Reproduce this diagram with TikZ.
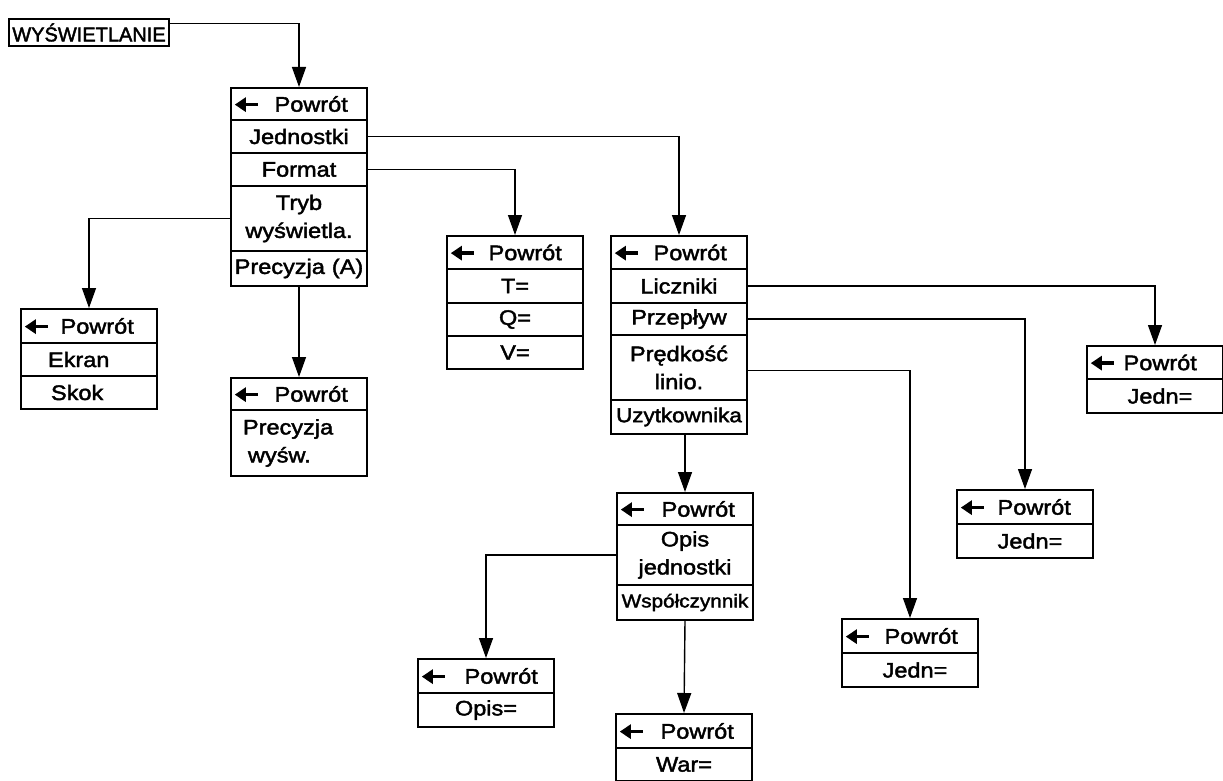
\documentclass[tikz,border=0pt]{standalone}
\usepackage{fontspec}
\setmainfont{Liberation Sans}[FakeStretch=1.12, FakeBold=2]
\newfontfamily\plainsans{Liberation Sans}[FakeBold=2]
\usetikzlibrary{arrows.meta}
\newcommand\larr{\tikz[baseline=0pt]\draw[line width=3.6pt,{Triangle[length=11pt,width=14pt]}-] (0pt,7pt) -- (23pt,7pt);}
\tikzset{
  row/.style={draw, line width=2pt, minimum width=136pt, inner sep=0pt,
    anchor=north west, font=\fontsize{21pt}{28pt}\selectfont},
  crow/.style={row, text width=132pt, align=center},
  lrow/.style={row, text width=132pt, align=left},
  conn/.style={line width=1.4pt, -{Triangle[length=20pt,width=14pt]}},
}
\begin{document}
\begin{tikzpicture}[x=1pt,y=-1pt]
\useasboundingbox (0,0) rectangle (1223,781);
% top label
\node[draw, line width=2pt, minimum width=160pt, minimum height=27pt, inner sep=0pt,
  anchor=north west, font=\plainsans\fontsize{20pt}{22pt}\selectfont] (wys) at (8,18) {WYŚWIETLANIE};
% main box
\node[lrow, minimum height=32pt] (m0) at (230,87) {\larr\hspace{15pt}Powrót};
\node[crow, minimum height=33pt] (m1) at (230,119) {Jednostki};
\node[crow, minimum height=33pt] (m2) at (230,152) {Format};
\node[crow, minimum height=65pt] (m3) at (230,185) {Tryb\\wyświetla.};
\node[crow, minimum height=35pt] (m4) at (230,250) {Precyzja (A)};
% Ekran box
\node[lrow, minimum height=34pt] (e0) at (20,308) {\larr\hspace{11pt}Powrót};
\node[lrow, minimum height=33pt] (e1) at (20,342) {\hspace*{25pt}Ekran};
\node[lrow, minimum height=33pt] (e2) at (20,375) {\hspace*{28pt}Skok};
% Precyzja box
\node[lrow, minimum height=32pt] (p0) at (230,377) {\larr\hspace{15pt}Powrót};
\node[lrow, minimum height=66pt] (p1) at (230,409) {\hspace*{10pt}Precyzja\\\hspace*{15pt}wyśw.};
% T box
\node[lrow, minimum height=33pt] (t0) at (446,235) {\larr\hspace{13pt}Powrót};
\node[crow, minimum height=34pt] (t1) at (446,268) {T=};
\node[crow, minimum height=33pt] (t2) at (446,302) {Q=};
\node[crow, minimum height=33pt] (t3) at (446,335) {V=};
% second box
\node[lrow, minimum height=33pt] (b0) at (610,235) {\larr\hspace{14pt}Powrót};
\node[crow, minimum height=34pt] (b1) at (610,268) {Liczniki};
\node[crow, minimum height=32pt] (b2) at (610,302) {Przepływ};
\node[crow, minimum height=65pt] (b3) at (610,334) {Prędkość\\linio.};
\node[crow, minimum height=34pt, font=\fontsize{20pt}{24pt}\selectfont] (b4) at (610,399) {Uzytkownika};
% Jedn boxes
\node[lrow, minimum height=33pt] (r0) at (1086,345) {\larr\hspace{8pt}Powrót};
\node[crow, minimum height=34pt] (r1) at (1086,378) {\hspace*{10pt}Jedn=};
\node[lrow, minimum height=34pt] (q0) at (956,489) {\larr\hspace{12pt}Powrót};
\node[crow, minimum height=34pt] (q1) at (956,523) {\hspace*{10pt}Jedn=};
\node[lrow, minimum height=34pt] (l0) at (841,618) {\larr\hspace{14pt}Powrót};
\node[crow, minimum height=34pt] (l1) at (841,652) {\hspace*{10pt}Jedn=};
% Opis box
\node[lrow, minimum height=32pt] (o0) at (616,492) {\larr\hspace{16pt}Powrót};
\node[crow, minimum height=60pt] (o1) at (616,524) {Opis\\jednostki};
\node[crow, minimum height=35pt, font=\fontsize{18.5pt}{22pt}\selectfont] (o2) at (616,584) {Współczynnik};
% Opis= box
\node[lrow, minimum height=34pt] (s0) at (417,658) {\larr\hspace{18pt}Powrót};
\node[crow, minimum height=34pt] (s1) at (417,692) {Opis=};
% War box
\node[lrow, minimum height=34pt] (w0) at (615,713) {\larr\hspace{16pt}Powrót};
\node[crow, minimum height=33pt] (w1) at (615,747) {War=};
% connectors
\draw[conn] ([yshift=9pt]wys.east) -| (m0.north);
\draw[conn] (m1.east) -| (b0.north);
\draw[conn] (m2.east) -| (t0.north);
\draw[conn] (m3.west) -| (e0.north);
\draw[conn] (m4.south) -- (p0.north);
\draw[conn] (b1.east) -| (r0.north);
\draw[conn] (b2.east) -| (q0.north);
\draw[conn] ([yshift=-3pt]b3.east) -| (l0.north);
\draw[conn] (b4.south -| o0.north) -- (o0.north);
\draw[conn] (o1.west) -| (s0.north);
\draw[conn] (o2.south) -- (w0.north);
\end{tikzpicture}
\end{document}
